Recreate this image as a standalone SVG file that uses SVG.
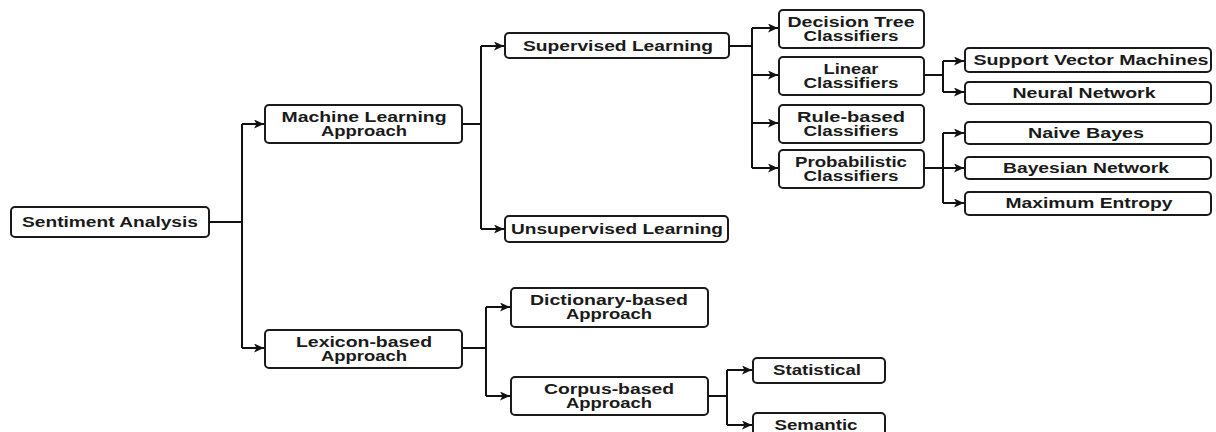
<svg xmlns="http://www.w3.org/2000/svg" width="1216" height="432" viewBox="0 0 1216 432">
<style>
.box{fill:#fff;stroke:#1a1a1a;stroke-width:2}
.t{font-family:"Liberation Sans",Arial,sans-serif;font-weight:bold;font-size:14px;fill:#1a1a1a;text-anchor:middle;dominant-baseline:central}
.c path{fill:none;stroke:#111;stroke-width:2}
</style>
<defs>
<marker id="ah" markerUnits="userSpaceOnUse" markerWidth="11" markerHeight="10" refX="10" refY="4.5" orient="auto">
<path d="M0,0 L10,4.5 L0,9 L2.5,4.5z" fill="#111"/>
</marker>
</defs>
<rect width="1216" height="432" fill="#fff"/>
<g class="c" id="connectors">
<path d="M209,222 H242"/>
<path d="M242,124 V348"/>
<path d="M242,124 H264" marker-end="url(#ah)"/>
<path d="M242,348 H264" marker-end="url(#ah)"/>
<path d="M462,124 H481"/>
<path d="M481,46 V229"/>
<path d="M481,46 H504" marker-end="url(#ah)"/>
<path d="M481,229 H504" marker-end="url(#ah)"/>
<path d="M729,46 H752"/>
<path d="M752,28 V168"/>
<path d="M752,28 H778" marker-end="url(#ah)"/>
<path d="M752,75 H778" marker-end="url(#ah)"/>
<path d="M752,123 H778" marker-end="url(#ah)"/>
<path d="M752,168 H778" marker-end="url(#ah)"/>
<path d="M924,75 H943"/>
<path d="M943,61 V92"/>
<path d="M943,61 H964" marker-end="url(#ah)"/>
<path d="M943,92 H964" marker-end="url(#ah)"/>
<path d="M924,168 H943"/>
<path d="M943,133 V203"/>
<path d="M943,133 H964" marker-end="url(#ah)"/>
<path d="M943,168 H964" marker-end="url(#ah)"/>
<path d="M943,203 H964" marker-end="url(#ah)"/>
<path d="M462,348 H486"/>
<path d="M486,307 V396"/>
<path d="M486,307 H510" marker-end="url(#ah)"/>
<path d="M486,396 H510" marker-end="url(#ah)"/>
<path d="M708,396 H727"/>
<path d="M727,370 V425"/>
<path d="M727,370 H752" marker-end="url(#ah)"/>
<path d="M727,425 H752" marker-end="url(#ah)"/>
</g>
<g id="sentiment"><rect class="box" x="11" y="207" width="198" height="30" rx="4"/><text class="t" x="110" y="222" textLength="176" lengthAdjust="spacingAndGlyphs">Sentiment Analysis</text></g>
<g id="ml"><rect class="box" x="265" y="105" width="197" height="38" rx="4"/><text class="t" x="364" y="117" textLength="165" lengthAdjust="spacingAndGlyphs">Machine Learning</text><text class="t" x="364" y="131" textLength="86" lengthAdjust="spacingAndGlyphs">Approach</text></g>
<g id="lexicon"><rect class="box" x="265" y="330" width="197" height="38" rx="4"/><text class="t" x="364" y="342" textLength="136" lengthAdjust="spacingAndGlyphs">Lexicon-based</text><text class="t" x="364" y="356" textLength="86" lengthAdjust="spacingAndGlyphs">Approach</text></g>
<g id="supervised"><rect class="box" x="505" y="33" width="224" height="25" rx="4"/><text class="t" x="618" y="46" textLength="190" lengthAdjust="spacingAndGlyphs">Supervised Learning</text></g>
<g id="unsupervised"><rect class="box" x="505" y="216" width="223" height="26" rx="4"/><text class="t" x="617" y="229" textLength="212" lengthAdjust="spacingAndGlyphs">Unsupervised Learning</text></g>
<g id="dictionary"><rect class="box" x="511" y="288" width="197" height="39" rx="4"/><text class="t" x="609" y="300" textLength="158" lengthAdjust="spacingAndGlyphs">Dictionary-based</text><text class="t" x="609" y="314" textLength="86" lengthAdjust="spacingAndGlyphs">Approach</text></g>
<g id="corpus"><rect class="box" x="511" y="377" width="197" height="38" rx="4"/><text class="t" x="609" y="389" textLength="130" lengthAdjust="spacingAndGlyphs">Corpus-based</text><text class="t" x="609" y="403" textLength="86" lengthAdjust="spacingAndGlyphs">Approach</text></g>
<g id="decision"><rect class="box" x="779" y="10" width="145" height="38" rx="4"/><text class="t" x="851" y="22" textLength="127" lengthAdjust="spacingAndGlyphs">Decision Tree</text><text class="t" x="851" y="36" textLength="95" lengthAdjust="spacingAndGlyphs">Classifiers</text></g>
<g id="linear"><rect class="box" x="779" y="57" width="145" height="38" rx="4"/><text class="t" x="851" y="69" textLength="55" lengthAdjust="spacingAndGlyphs">Linear</text><text class="t" x="851" y="83" textLength="95" lengthAdjust="spacingAndGlyphs">Classifiers</text></g>
<g id="rule"><rect class="box" x="779" y="105" width="145" height="38" rx="4"/><text class="t" x="851" y="117" textLength="108" lengthAdjust="spacingAndGlyphs">Rule-based</text><text class="t" x="851" y="131" textLength="95" lengthAdjust="spacingAndGlyphs">Classifiers</text></g>
<g id="probabilistic"><rect class="box" x="779" y="150" width="145" height="38" rx="4"/><text class="t" x="851" y="162" textLength="112" lengthAdjust="spacingAndGlyphs">Probabilistic</text><text class="t" x="851" y="176" textLength="95" lengthAdjust="spacingAndGlyphs">Classifiers</text></g>
<g id="svm"><rect class="box" x="965" y="48" width="246" height="24" rx="4"/><text class="t" x="1091" y="60" textLength="235" lengthAdjust="spacingAndGlyphs">Support Vector Machines</text></g>
<g id="nn"><rect class="box" x="965" y="82" width="246" height="22" rx="4"/><text class="t" x="1084" y="93" textLength="143" lengthAdjust="spacingAndGlyphs">Neural Network</text></g>
<g id="naive"><rect class="box" x="965" y="122" width="246" height="22" rx="4"/><text class="t" x="1086" y="133" textLength="116" lengthAdjust="spacingAndGlyphs">Naive Bayes</text></g>
<g id="bayesian"><rect class="box" x="965" y="157" width="246" height="22" rx="4"/><text class="t" x="1086" y="168" textLength="166" lengthAdjust="spacingAndGlyphs">Bayesian Network</text></g>
<g id="maxent"><rect class="box" x="965" y="192" width="246" height="23" rx="4"/><text class="t" x="1089" y="203" textLength="167" lengthAdjust="spacingAndGlyphs">Maximum Entropy</text></g>
<g id="statistical"><rect class="box" x="753" y="358" width="132" height="25" rx="4"/><text class="t" x="817" y="370" textLength="88" lengthAdjust="spacingAndGlyphs">Statistical</text></g>
<g id="semantic"><rect class="box" x="753" y="413" width="132" height="30" rx="4"/><text class="t" x="816" y="425" textLength="83" lengthAdjust="spacingAndGlyphs">Semantic</text></g>
</svg>
